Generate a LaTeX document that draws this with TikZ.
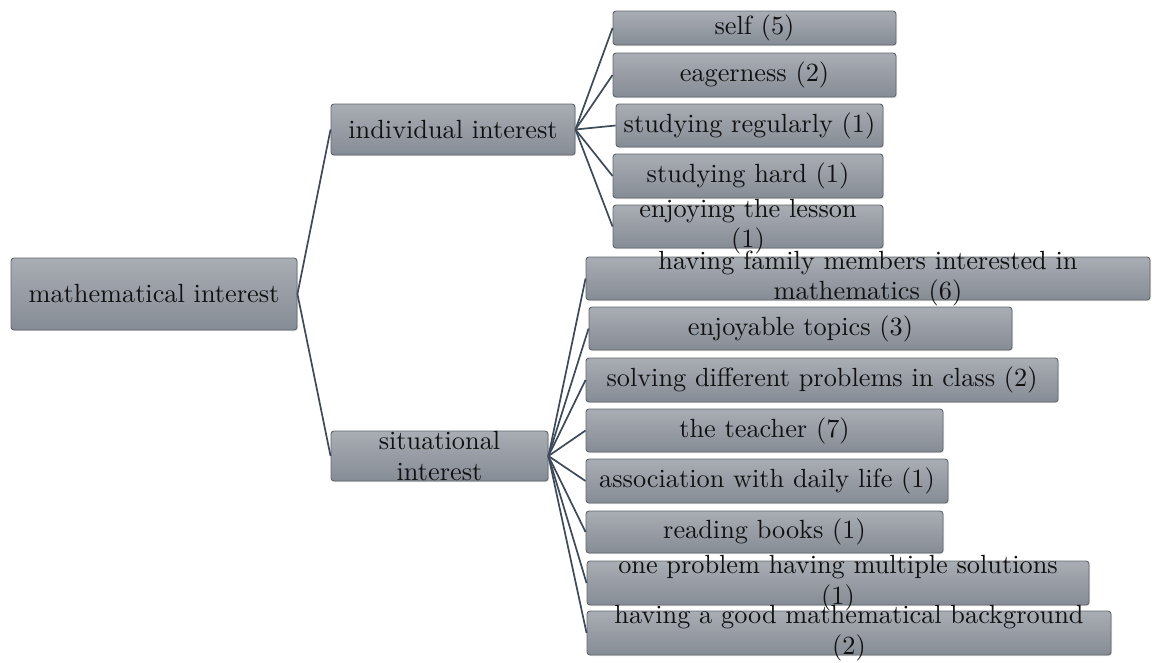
\documentclass[tikz,border=0pt]{standalone}
\usepackage{fontspec}
\newfontfamily\boxfont{lmroman10-regular.otf}
\usetikzlibrary{shadows}
\definecolor{boxtop}{HTML}{A9ADB4}
\definecolor{boxbot}{HTML}{868C95}
\definecolor{boxline}{HTML}{62666D}
\definecolor{linkcol}{HTML}{3D4A5A}
\definecolor{txt}{HTML}{111111}
\tikzset{
  box/.style={rectangle, rounded corners=3pt, draw=boxline, line width=0.9pt,
    top color=boxtop, bottom color=boxbot, inner sep=0pt,
    drop shadow={shadow xshift=1pt, shadow yshift=-1.2pt, opacity=0.25}},
  lbl/.style={inner sep=0pt, align=center, text=txt,
    font=\boxfont\fontsize{26.3}{30.5}\selectfont},
  link/.style={draw=linkcol, line width=1.7pt},
}
% box at centre (cx,cy) with width w and height h
\newcommand\tbox[6]{%
  \node[box, minimum width=#4, minimum height=#5,
        label={[lbl]center:{#6}}] (#1) at (#2,#3) {};}
\begin{document}
\begin{tikzpicture}[x=1pt, y=-1pt]
\useasboundingbox (0,0) rectangle (1152,662);
% root and the two branches
\tbox{root}{154}{294}{286pt}{72pt}{mathematical interest}
\tbox{ind}{453}{129.5}{244pt}{51pt}{individual interest}
\tbox{sit}{439.5}{456}{217pt}{50pt}{situational\\interest}
% individual interest
\tbox{self}{754.5}{28}{283pt}{34pt}{self (5)}
\tbox{eager}{754.5}{75}{283pt}{44pt}{eagerness (2)}
\tbox{sreg}{749.5}{125.5}{267pt}{43pt}{studying regularly (1)}
\tbox{shard}{748}{176}{270pt}{44pt}{studying hard (1)}
\tbox{enjl}{748}{226.5}{270pt}{43pt}{enjoying the lesson\\(1)}
% situational interest
\tbox{fam}{868}{278.5}{564pt}{43pt}{having family members interested in\\mathematics (6)}
\tbox{topics}{800.5}{328.5}{423pt}{43pt}{enjoyable topics (3)}
\tbox{solve}{822}{380}{472pt}{44pt}{solving different problems in class (2)}
\tbox{teach}{764.5}{430.5}{357pt}{43pt}{the teacher (7)}
\tbox{daily}{767}{481}{362pt}{44pt}{association with daily life (1)}
\tbox{books}{764.5}{532}{357pt}{42pt}{reading books (1)}
\tbox{multi}{838}{583}{502pt}{44pt}{one problem having multiple solutions\\(1)}
\tbox{backg}{849}{633}{524pt}{44pt}{having a good mathematical background\\(2)}
% connectors
\foreach \c in {ind,sit} \draw[link] (root.east) -- (\c.west);
\foreach \c in {self,eager,sreg,shard,enjl} \draw[link] (ind.east) -- (\c.west);
\foreach \c in {fam,topics,solve,teach,daily,books,multi,backg} \draw[link] (sit.east) -- (\c.west);
\end{tikzpicture}
\end{document}
